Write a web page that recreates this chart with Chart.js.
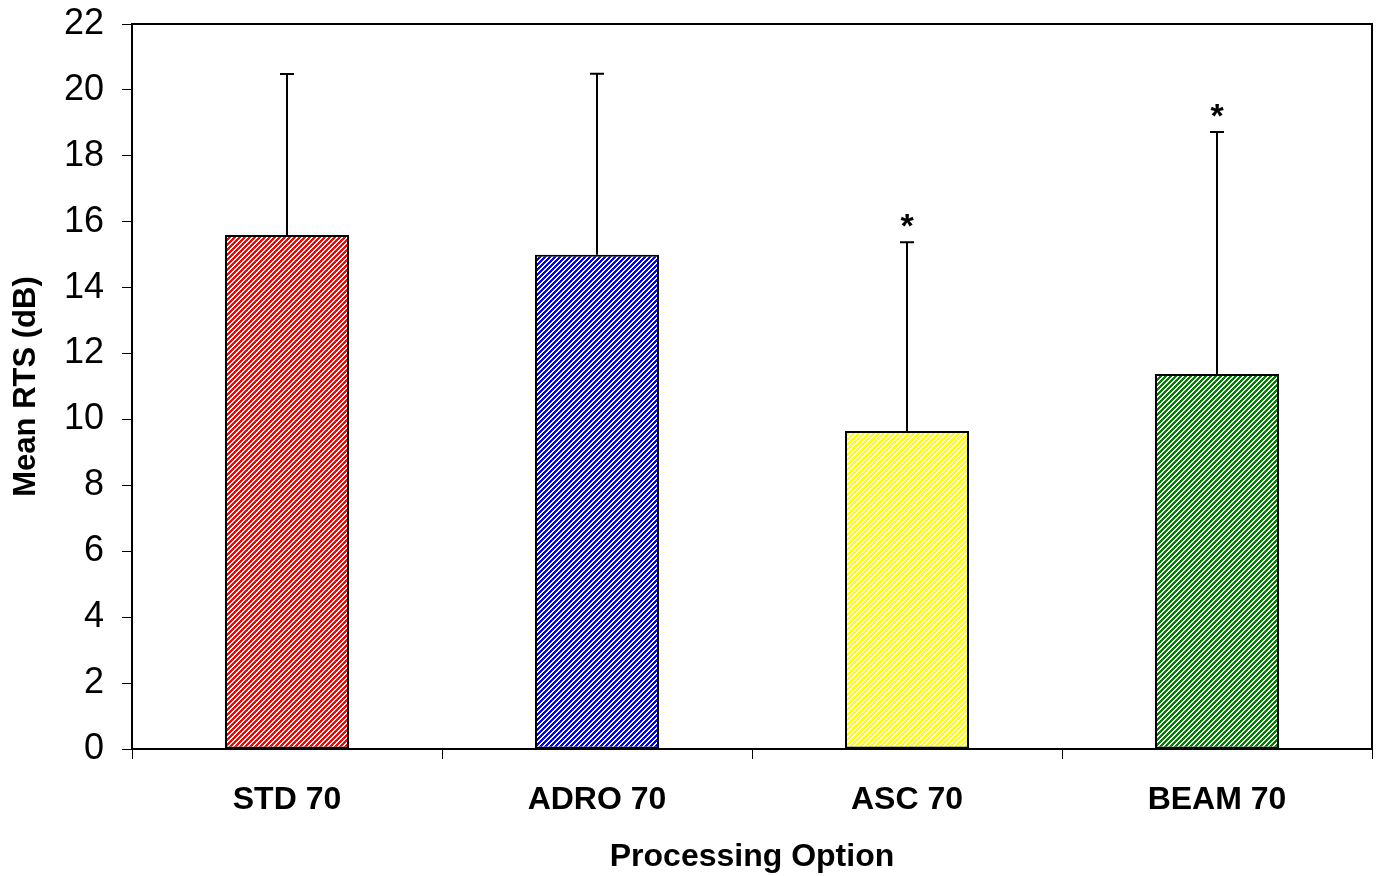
<!DOCTYPE html>
<html>
<head>
<meta charset="utf-8">
<script src="https://cdn.jsdelivr.net/npm/chart.js@4.4.0/dist/chart.umd.min.js"></script>
<style>
  body { margin: 0; background: #fff; }
  #wrap { width: 1377px; height: 876px; }
</style>
</head>
<body>
<div id="wrap"><canvas id="rts" width="1377" height="876"></canvas></div>
<script>
// values
var categories = ['STD 70', 'ADRO 70', 'ASC 70', 'BEAM 70'];
var meanRts = [15.6, 15.0, 9.65, 11.38];
var sdRts = [4.88, 5.49, 5.73, 7.34];
var marks = ['', '', '*', '*'];
var yTicks = [0, 2, 4, 6, 8, 10, 12, 14, 16, 18, 20, 22];

var barColours = ['#ff0000', '#0000ff', '#ffff00', '#008000'];

// small diagonal hatch tile, coloured stripes on white
function hatch(colour) {
    var c = document.createElement('canvas');
    c.width = 5;
    c.height = 5;
    var g = c.getContext('2d');
    g.fillStyle = '#ffffff';
    g.fillRect(0, 0, 5, 5);
    g.fillStyle = colour;
    for (var x = 0; x < 5; x++) {
        for (var y = 0; y < 5; y++) {
            if ((x + y) % 5 < 3) g.fillRect(x, y, 1, 1);
        }
    }
    return g.createPattern(c, 'repeat');
}

var FONT = '"Liberation Sans", Arial, sans-serif';

// box round the plot + error bars and significance stars
var extras = {
    id: 'extras',
    afterDatasetsDraw: function (chart) {
        var ctx = chart.ctx;
        var area = chart.chartArea;
        var y = chart.scales.y;
        var meta = chart.getDatasetMeta(0);
        ctx.save();
        ctx.strokeStyle = '#000';
        ctx.lineWidth = 2;
        ctx.beginPath();
        ctx.moveTo(area.left, area.top);
        ctx.lineTo(area.right, area.top);
        ctx.lineTo(area.right, area.bottom);
        ctx.stroke();

        meta.data.forEach(function (bar, i) {
            var yTop = y.getPixelForValue(meanRts[i] + sdRts[i]);
            var yBase = y.getPixelForValue(meanRts[i]);
            ctx.beginPath();
            ctx.moveTo(bar.x, yBase);
            ctx.lineTo(bar.x, yTop);
            ctx.moveTo(bar.x - 7, yTop);
            ctx.lineTo(bar.x + 7, yTop);
            ctx.stroke();
            if (marks[i]) {
                ctx.fillStyle = '#000';
                ctx.font = 'bold 34px ' + FONT;
                ctx.textAlign = 'center';
                ctx.textBaseline = 'alphabetic';
                ctx.fillText(marks[i], bar.x, yTop - 5);
            }
        });
        ctx.restore();
    }
};

var ctx = document.getElementById('rts').getContext('2d');

var rtsChart = new Chart(ctx, {
    type: 'bar',
    data: {
        labels: categories,
        datasets: [
            {
                data: meanRts,
                backgroundColor: barColours.map(hatch),
                borderColor: '#000',
                borderWidth: 2,
                borderSkipped: false,
                barPercentage: 0.4,
                categoryPercentage: 1.0
            }
        ]
    },
    options: {
        responsive: false,
        animation: false,
        events: [],
        layout: { padding: { top: 24, right: 5, left: 0, bottom: 0 } },
        plugins: { legend: { display: false }, tooltip: { enabled: false } },
        scales: {
            x: {
                afterFit: function (s) { s.height = 127; },
                grid: { offset: true, drawOnChartArea: false, tickLength: 10, color: '#000', lineWidth: 1 },
                border: { color: '#000', width: 2 },
                ticks: { color: '#000', padding: 22, font: { family: FONT, size: 32, weight: 'bold' } },
                title: {
                    display: true,
                    text: 'Processing Option',
                    color: '#000',
                    font: { family: FONT, size: 32, weight: 'bold' },
                    padding: { top: 0, bottom: 0 }
                }
            },
            y: {
                min: 0,
                max: 22,
                afterFit: function (s) {
                    s.width = 132;
                    s.paddingTop = 0;
                    s.paddingBottom = 0;
                },
                afterBuildTicks: function (s) { s.ticks = yTicks.map(function (v) { return { value: v }; }); },
                grid: { drawOnChartArea: false, tickLength: 10, color: '#000', lineWidth: 1 },
                border: { color: '#000', width: 2 },
                ticks: { color: '#000', padding: 18, font: { family: FONT, size: 36 } },
                title: {
                    display: true,
                    text: 'Mean RTS (dB)',
                    color: '#000',
                    font: { family: FONT, size: 31, weight: 'bold' },
                    padding: { top: 8, bottom: 0 }
                }
            }
        }
    },
    plugins: [extras]
});
</script>
</body>
</html>
